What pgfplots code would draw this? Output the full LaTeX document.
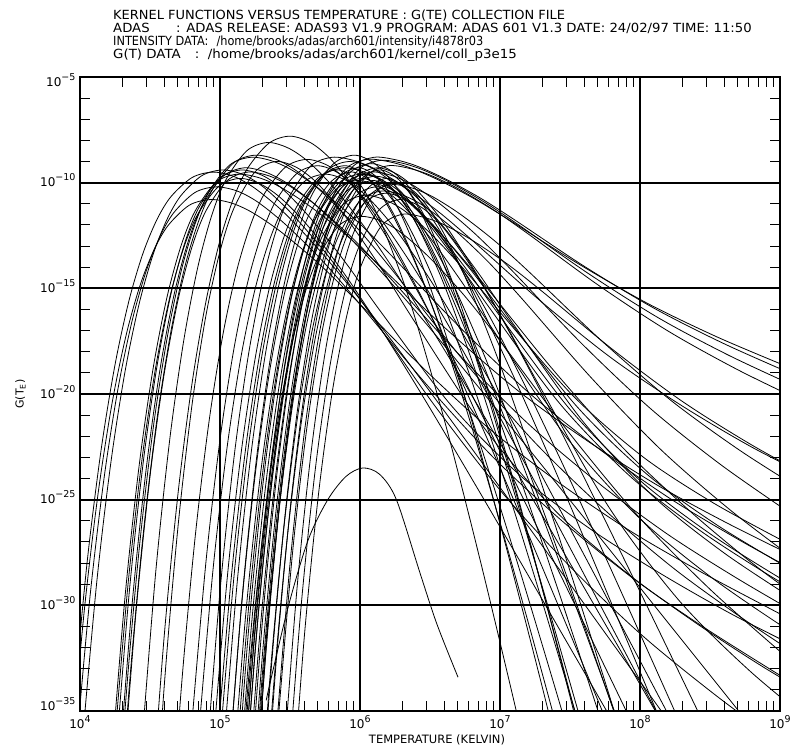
\documentclass[border=0pt]{standalone}
\usepackage{fontspec}
\setmainfont{DejaVu Sans}
\usepackage{graphicx}
\usepackage{pgfplots}
\pgfplotsset{compat=1.18}
\pgfplotsset{gte/.style={black, line width=0.8pt, smooth, tension=0.5, mark=none}}
\newcommand\sps[1]{\raisebox{0.5em}{\fontsize{9.5}{10}\selectfont #1}}

\begin{document}
\begin{tikzpicture}[x=1pt,y=1pt]
\path[use as bounding box] (0,0) rectangle (791,751);
% header
\begin{scope}[every node/.style={anchor=base west, inner sep=0pt, font=\fontsize{12.6}{13}\selectfont}]
\node at (113,731.5) {\scalebox{1.03}[1]{KERNEL FUNCTIONS VERSUS TEMPERATURE : G(TE) COLLECTION FILE}};
\node at (113,718.5) {\scalebox{1.05}[1]{\makebox[60pt][l]{ADAS}: ADAS RELEASE: ADAS93 V1.9 PROGRAM: ADAS 601 V1.3 DATE: 24/02/97 TIME: 11:50}};
\node at (113,705.5) {\scalebox{0.9}[1]{INTENSITY DATA:\hspace{9pt}/home/brooks/adas/arch601/intensity/i4878r03}};
\node at (113,692.5) {\scalebox{1.06}[1]{\makebox[77pt][l]{G(T) DATA}:\hspace{8pt}/home/brooks/adas/arch601/kernel/coll\_p3e15}};
\end{scope}

\begin{axis}[
  at={(80pt,40pt)}, anchor=south west,
  scale only axis, width=700pt, height=634pt,
  xmin=4, xmax=9, ymin=-35, ymax=-5,
  xtick={4,5,6,7,8,9},
  xticklabels={10\sps{4},10\sps{5},10\sps{6},10\sps{7},10\sps{8},10\sps{9}},
  ytick={-35,-30,-25,-20,-15,-10,-5},
  yticklabels={\raisebox{5pt}{10\sps{−35}},10\sps{−30},10\sps{−25},10\sps{−20},10\sps{−15},10\sps{−10},\raisebox{-5pt}{10\sps{−5}}},
  minor xtick={4.301,4.477,4.602,4.699,4.778,4.845,4.903,4.954,
               5.301,5.477,5.602,5.699,5.778,5.845,5.903,5.954,
               6.301,6.477,6.602,6.699,6.778,6.845,6.903,6.954,
               7.301,7.477,7.602,7.699,7.778,7.845,7.903,7.954,
               8.301,8.477,8.602,8.699,8.778,8.845,8.903,8.954},
  minor ytick={-34,-33,-32,-31,-29,-28,-27,-26,-24,-23,-22,-21,-19,-18,-17,-16,
               -14,-13,-12,-11,-9,-8,-7,-6},
  grid=major,
  major grid style={black, line width=1.7pt},
  tick align=inside,
  major tick length=0pt,
  minor tick length=10pt,
  minor tick style={black, line width=1pt},
  axis line style={black, line width=2pt},
  tick label style={font=\fontsize{12}{13}\selectfont},
  yticklabel style={anchor=base east, yshift=-4.3pt, xshift=-1pt},
  xticklabel style={yshift=-1pt},
  xlabel={TEMPERATURE (KELVIN)},
  ylabel={G(T\textsubscript{E})},
  xlabel style={font=\fontsize{11.5}{13}\selectfont, at={(axis description cs:0.51,0)}, anchor=north, yshift=-20pt},
  ylabel style={font=\fontsize{11}{13}\selectfont, at={(axis description cs:-0.085,0.5)}, anchor=center},
]
% low temperature group
\addplot[gte] coordinates {(3.93,-37.59)(4.03,-30.28)(4.13,-24.67)(4.23,-20.40)(4.33,-17.20)(4.43,-14.84)(4.53,-13.16)(4.63,-12.02)(4.78,-11.07)(4.93,-10.80)(5.08,-10.96)(5.23,-11.41)(5.43,-12.30)(5.68,-13.68)(5.93,-15.28)(6.43,-18.64)(6.93,-21.68)(7.43,-24.24)(7.93,-26.48)(8.43,-28.40)(8.93,-30.16)(9.10,-30.75)};
\addplot[gte] coordinates {(3.97,-36.99)(4.07,-29.68)(4.17,-24.07)(4.27,-19.80)(4.37,-16.60)(4.47,-14.24)(4.57,-12.56)(4.67,-11.42)(4.82,-10.47)(4.97,-10.20)(5.12,-10.39)(5.27,-10.92)(5.47,-11.99)(5.72,-13.62)(5.97,-15.52)(6.47,-19.51)(6.97,-23.12)(7.47,-26.16)(7.97,-28.82)(8.47,-31.10)(8.97,-33.19)(9.10,-33.70)};
\addplot[gte] coordinates {(3.95,-34.95)(4.05,-28.01)(4.15,-22.68)(4.25,-18.62)(4.35,-15.58)(4.45,-13.34)(4.55,-11.74)(4.65,-10.66)(4.80,-9.76)(4.95,-9.50)(5.10,-9.71)(5.25,-10.27)(5.45,-11.37)(5.70,-13.12)(5.95,-15.11)(6.20,-17.24)(6.45,-19.44)(6.70,-21.69)(6.95,-23.96)(7.45,-28.54)(7.95,-33.14)(8.45,-37.74)};
\addplot[gte] coordinates {(4.02,-36.19)(4.12,-28.88)(4.22,-23.27)(4.32,-19.00)(4.42,-15.80)(4.52,-13.44)(4.62,-11.76)(4.72,-10.62)(4.87,-9.67)(5.02,-9.40)(5.17,-9.63)(5.32,-10.26)(5.52,-11.52)(5.77,-13.45)(6.02,-15.70)(6.52,-20.43)(7.02,-24.70)(7.52,-28.30)(8.02,-31.45)(8.52,-34.15)(9.02,-36.63)};
\addplot[gte] coordinates {(4.22,-37.85)(4.32,-29.71)(4.42,-23.52)(4.52,-18.88)(4.62,-15.46)(4.72,-13.02)(4.82,-11.37)(4.97,-9.99)(5.12,-9.60)(5.27,-9.75)(5.42,-10.17)(5.62,-11.01)(5.87,-12.30)(6.12,-13.80)(6.62,-16.95)(7.12,-19.80)(7.62,-22.20)(8.12,-24.30)(8.62,-26.10)(9.12,-27.75)};
\addplot[gte] coordinates {(4.25,-37.65)(4.35,-29.51)(4.45,-23.32)(4.55,-18.68)(4.65,-15.26)(4.75,-12.82)(4.85,-11.17)(5.00,-9.79)(5.15,-9.40)(5.30,-9.65)(5.45,-10.32)(5.65,-11.71)(5.90,-13.81)(6.15,-16.12)(6.65,-20.53)(7.15,-23.89)(7.65,-26.41)(8.15,-28.51)(8.65,-30.40)(9.15,-32.08)};
\addplot[gte] coordinates {(4.27,-38.52)(4.37,-30.11)(4.47,-23.70)(4.57,-18.90)(4.67,-15.36)(4.77,-12.84)(4.87,-11.13)(5.02,-9.71)(5.17,-9.30)(5.32,-9.49)(5.47,-9.99)(5.67,-10.98)(5.92,-12.56)(6.17,-14.35)(6.42,-16.26)(6.67,-18.25)(6.92,-20.27)(7.17,-22.31)(7.67,-26.43)(8.17,-30.57)(8.67,-34.71)(9.17,-38.86)};
\addplot[gte] coordinates {(4.30,-38.72)(4.40,-30.31)(4.50,-23.90)(4.60,-19.10)(4.70,-15.56)(4.80,-13.04)(4.90,-11.33)(5.05,-9.91)(5.20,-9.50)(5.35,-9.68)(5.50,-10.17)(5.70,-11.15)(5.95,-12.65)(6.20,-14.40)(6.70,-18.08)(7.20,-21.40)(7.70,-24.20)(8.20,-26.65)(8.70,-28.75)(9.20,-30.68)};
\addplot[gte] coordinates {(4.24,-37.07)(4.34,-29.22)(4.44,-23.24)(4.54,-18.76)(4.64,-15.46)(4.74,-13.10)(4.84,-11.51)(4.99,-10.18)(5.14,-9.80)(5.29,-10.07)(5.44,-10.76)(5.64,-12.14)(5.89,-14.33)(6.14,-16.82)(6.39,-19.47)(6.64,-22.23)(6.89,-25.04)(7.14,-27.88)(7.64,-33.60)(8.14,-39.35)};
\addplot[gte] coordinates {(4.50,-40.48)(4.60,-31.57)(4.70,-24.72)(4.80,-19.51)(4.90,-15.61)(5.00,-12.73)(5.10,-10.68)(5.20,-9.29)(5.35,-8.13)(5.50,-7.80)(5.65,-8.12)(5.80,-8.95)(6.00,-10.61)(6.25,-13.23)(6.50,-16.22)(6.75,-19.40)(7.00,-22.71)(7.25,-26.09)(7.50,-29.49)(8.00,-36.35)};
\addplot[gte] coordinates {(4.44,-36.74)(4.54,-28.49)(4.64,-22.21)(4.74,-17.51)(4.84,-14.04)(4.94,-11.57)(5.04,-9.89)(5.19,-8.50)(5.34,-8.10)(5.49,-8.37)(5.64,-9.06)(5.84,-10.44)(6.09,-12.63)(6.34,-15.12)(6.59,-17.77)(6.84,-20.53)(7.09,-23.34)(7.34,-26.18)(7.84,-31.90)(8.34,-37.65)};
\addplot[gte] coordinates {(4.25,-43.53)(4.35,-34.02)(4.45,-26.73)(4.55,-21.18)(4.65,-17.02)(4.75,-13.95)(4.85,-11.77)(4.95,-10.29)(5.10,-9.05)(5.25,-8.70)(5.40,-8.90)(5.55,-9.46)(5.75,-10.58)(6.00,-12.30)(6.25,-14.30)(6.75,-18.50)(7.25,-22.30)(7.75,-25.50)(8.25,-28.30)(8.75,-30.70)(9.25,-32.90)};
\addplot[gte] coordinates {(4.22,-44.97)(4.32,-35.10)(4.42,-27.52)(4.52,-21.76)(4.62,-17.44)(4.72,-14.25)(4.82,-11.99)(4.92,-10.45)(5.07,-9.16)(5.22,-8.80)(5.37,-8.97)(5.52,-9.43)(5.72,-10.35)(5.97,-11.77)(6.22,-13.42)(6.72,-16.89)(7.22,-20.02)(7.72,-22.66)(8.22,-24.97)(8.72,-26.95)(9.22,-28.77)};
\addplot[gte] coordinates {(4.50,-44.06)(4.60,-33.97)(4.70,-26.28)(4.80,-20.52)(4.90,-16.27)(5.00,-13.25)(5.10,-11.20)(5.25,-9.49)(5.40,-9.00)(5.55,-9.29)(5.70,-10.06)(5.90,-11.64)(6.15,-14.04)(6.40,-16.68)(6.90,-21.72)(7.40,-25.56)(7.90,-28.44)(8.40,-30.84)(8.90,-33.00)(9.40,-34.92)};
% middle group
\addplot[gte] coordinates {(4.62,-43.73)(4.72,-34.22)(4.82,-26.93)(4.92,-21.38)(5.02,-17.22)(5.12,-14.15)(5.22,-11.97)(5.32,-10.49)(5.47,-9.25)(5.62,-8.90)(5.77,-9.19)(5.92,-9.96)(6.12,-11.47)(6.37,-13.88)(6.62,-16.62)(6.87,-19.54)(7.12,-22.57)(7.37,-25.66)(7.62,-28.78)(8.12,-35.07)};
\addplot[gte] coordinates {(4.90,-37.63)(5.00,-29.33)(5.10,-23.01)(5.20,-18.27)(5.30,-14.78)(5.40,-12.29)(5.50,-10.61)(5.65,-9.20)(5.80,-8.80)(5.95,-8.94)(6.10,-9.33)(6.30,-10.12)(6.55,-11.32)(6.80,-12.72)(7.30,-15.66)(7.80,-18.32)(8.30,-20.56)(8.80,-22.52)(9.30,-24.20)};
\addplot[gte] coordinates {(5.06,-37.92)(5.16,-29.51)(5.26,-23.10)(5.36,-18.30)(5.46,-14.76)(5.56,-12.24)(5.66,-10.53)(5.81,-9.11)(5.96,-8.70)(6.11,-9.12)(6.26,-10.24)(6.46,-12.44)(6.71,-15.94)(6.96,-19.92)(7.21,-24.17)(7.46,-28.58)(7.71,-33.08)(7.96,-37.62)};
\addplot[gte] coordinates {(5.20,-39.97)(5.30,-30.99)(5.40,-24.16)(5.50,-19.04)(5.60,-15.26)(5.70,-12.58)(5.80,-10.75)(5.95,-9.23)(6.10,-8.80)(6.25,-8.91)(6.40,-9.20)(6.60,-9.79)(6.85,-10.69)(7.10,-11.74)(7.60,-13.95)(8.10,-15.94)(8.60,-17.62)(9.10,-19.09)};
\addplot[gte] coordinates {(5.24,-40.12)(5.34,-31.14)(5.44,-24.31)(5.54,-19.19)(5.64,-15.41)(5.74,-12.73)(5.84,-10.90)(5.99,-9.38)(6.14,-8.95)(6.29,-9.06)(6.44,-9.37)(6.64,-9.98)(6.89,-10.93)(7.14,-12.03)(7.64,-14.34)(8.14,-16.43)(8.64,-18.19)(9.14,-19.73)};
\addplot[gte] coordinates {(5.15,-40.07)(5.25,-31.09)(5.35,-24.26)(5.45,-19.14)(5.55,-15.36)(5.65,-12.68)(5.75,-10.85)(5.90,-9.33)(6.05,-8.90)(6.20,-9.00)(6.35,-9.28)(6.55,-9.84)(6.80,-10.70)(7.05,-11.70)(7.55,-13.80)(8.05,-15.70)(8.55,-17.30)(9.05,-18.70)};
\addplot[gte] coordinates {(5.30,-42.32)(5.40,-32.78)(5.50,-25.52)(5.60,-20.08)(5.70,-16.07)(5.80,-13.21)(5.90,-11.27)(6.05,-9.66)(6.20,-9.20)(6.35,-9.32)(6.50,-9.64)(6.70,-10.28)(6.95,-11.27)(7.20,-12.42)(7.70,-14.84)(8.20,-17.02)(8.70,-18.86)(9.20,-20.47)};
\addplot[gte] coordinates {(5.00,-36.47)(5.10,-28.62)(5.20,-22.64)(5.30,-18.16)(5.40,-14.86)(5.50,-12.50)(5.60,-10.91)(5.75,-9.58)(5.90,-9.20)(6.05,-9.73)(6.20,-11.12)(6.40,-13.88)(6.65,-18.25)(6.90,-23.23)(7.15,-28.54)(7.40,-34.05)(7.65,-39.68)};
\addplot[gte] coordinates {(5.05,-38.72)(5.15,-30.31)(5.25,-23.90)(5.35,-19.10)(5.45,-15.56)(5.55,-13.04)(5.65,-11.33)(5.80,-9.91)(5.95,-9.50)(6.10,-10.08)(6.25,-11.61)(6.45,-14.65)(6.70,-19.46)(6.95,-24.93)(7.20,-30.77)(7.45,-36.84)};
\addplot[gte] coordinates {(5.10,-40.47)(5.20,-31.49)(5.30,-24.66)(5.40,-19.54)(5.50,-15.76)(5.60,-13.08)(5.70,-11.25)(5.85,-9.73)(6.00,-9.30)(6.15,-9.94)(6.30,-11.60)(6.50,-14.92)(6.75,-20.16)(7.00,-26.14)(7.25,-32.51)(7.50,-39.12)};
\addplot[gte] coordinates {(5.15,-38.82)(5.25,-30.41)(5.35,-24.00)(5.45,-19.20)(5.55,-15.66)(5.65,-13.14)(5.75,-11.43)(5.90,-10.01)(6.05,-9.60)(6.20,-10.08)(6.35,-11.33)(6.55,-13.81)(6.80,-17.75)(7.05,-22.23)(7.30,-27.01)(7.55,-31.97)(7.80,-37.03)};
\addplot[gte] coordinates {(5.20,-43.02)(5.30,-33.48)(5.40,-26.22)(5.50,-20.78)(5.60,-16.77)(5.70,-13.91)(5.80,-11.97)(5.95,-10.36)(6.10,-9.90)(6.25,-10.46)(6.40,-11.92)(6.60,-14.81)(6.85,-19.40)(7.10,-24.63)(7.35,-30.21)(7.60,-35.99)};
\addplot[gte] coordinates {(5.25,-44.46)(5.35,-34.37)(5.45,-26.68)(5.55,-20.92)(5.65,-16.67)(5.75,-13.65)(5.85,-11.60)(6.00,-9.89)(6.15,-9.40)(6.30,-10.01)(6.45,-11.61)(6.65,-14.78)(6.90,-19.81)(7.15,-25.53)(7.40,-31.64)(7.65,-37.98)};
\addplot[gte] coordinates {(5.22,-41.37)(5.32,-32.39)(5.42,-25.56)(5.52,-20.44)(5.62,-16.66)(5.72,-13.98)(5.82,-12.15)(5.97,-10.63)(6.12,-10.20)(6.27,-10.65)(6.42,-11.83)(6.62,-14.18)(6.87,-17.89)(7.12,-22.13)(7.37,-26.64)(7.62,-31.32)(7.87,-36.11)};
\addplot[gte] coordinates {(5.40,-36.15)(5.50,-28.04)(5.60,-21.96)(5.70,-17.48)(5.80,-14.28)(5.90,-12.12)(6.05,-10.31)(6.20,-9.80)(6.35,-10.44)(6.50,-12.10)(6.70,-15.42)(6.95,-20.66)(7.20,-26.64)(7.45,-33.01)(7.70,-39.62)};
\addplot[gte] coordinates {(5.18,-38.32)(5.28,-29.91)(5.38,-23.50)(5.48,-18.70)(5.58,-15.16)(5.68,-12.64)(5.78,-10.93)(5.93,-9.51)(6.08,-9.10)(6.23,-9.47)(6.38,-10.44)(6.58,-12.38)(6.83,-15.44)(7.08,-18.92)(7.33,-22.64)(7.58,-26.50)(7.83,-30.44)(8.08,-34.41)(8.58,-42.41)};
\addplot[gte] coordinates {(5.28,-43.62)(5.38,-34.08)(5.48,-26.82)(5.58,-21.38)(5.68,-17.37)(5.78,-14.51)(5.88,-12.57)(6.03,-10.96)(6.18,-10.50)(6.33,-10.84)(6.48,-11.75)(6.68,-13.54)(6.93,-16.38)(7.18,-19.62)(7.43,-23.07)(7.68,-26.65)(7.93,-30.31)(8.18,-34.00)(8.68,-41.43)};
\addplot[gte] coordinates {(4.95,-36.67)(5.05,-28.82)(5.15,-22.84)(5.25,-18.36)(5.35,-15.06)(5.45,-12.70)(5.55,-11.11)(5.70,-9.78)(5.85,-9.40)(6.00,-10.09)(6.15,-11.90)(6.35,-15.48)(6.60,-21.17)(6.85,-27.64)(7.10,-34.54)(7.35,-41.71)};
\addplot[gte] coordinates {(5.12,-39.99)(5.22,-31.30)(5.32,-24.68)(5.42,-19.72)(5.52,-16.06)(5.62,-13.46)(5.72,-11.69)(5.87,-10.22)(6.02,-9.80)(6.17,-10.33)(6.32,-11.72)(6.52,-14.48)(6.77,-18.85)(7.02,-23.83)(7.27,-29.14)(7.52,-34.65)(7.77,-40.28)};
\addplot[gte] coordinates {(5.45,-37.74)(5.55,-29.20)(5.65,-22.80)(5.75,-18.08)(5.85,-14.72)(5.95,-12.44)(6.10,-10.54)(6.25,-10.00)(6.40,-10.50)(6.55,-11.82)(6.75,-14.45)(7.00,-18.60)(7.25,-23.33)(7.50,-28.37)(7.75,-33.61)(8.00,-38.96)};
\addplot[gte] coordinates {(5.02,-37.25)(5.12,-29.11)(5.22,-22.92)(5.32,-18.28)(5.42,-14.86)(5.52,-12.42)(5.62,-10.77)(5.77,-9.39)(5.92,-9.00)(6.07,-9.26)(6.22,-9.95)(6.42,-11.37)(6.67,-13.52)(6.92,-15.88)(7.42,-20.40)(7.92,-23.84)(8.42,-26.42)(8.92,-28.57)(9.42,-30.50)};
\addplot[gte] coordinates {(5.10,-38.82)(5.20,-30.41)(5.30,-24.00)(5.40,-19.20)(5.50,-15.66)(5.60,-13.14)(5.70,-11.43)(5.85,-10.01)(6.00,-9.60)(6.15,-9.85)(6.30,-10.52)(6.50,-11.91)(6.75,-14.01)(7.00,-16.32)(7.50,-20.73)(8.00,-24.09)(8.50,-26.61)(9.00,-28.71)(9.50,-30.60)};
\addplot[gte] coordinates {(5.15,-41.17)(5.25,-32.19)(5.35,-25.36)(5.45,-20.24)(5.55,-16.46)(5.65,-13.78)(5.75,-11.95)(5.90,-10.43)(6.05,-10.00)(6.20,-10.24)(6.35,-10.88)(6.55,-12.20)(6.80,-14.20)(7.05,-16.40)(7.55,-20.60)(8.05,-23.80)(8.55,-26.20)(9.05,-28.20)};
\addplot[gte] coordinates {(5.20,-41.84)(5.30,-32.59)(5.40,-25.54)(5.50,-20.26)(5.60,-16.37)(5.70,-13.59)(5.80,-11.71)(5.95,-10.15)(6.10,-9.70)(6.25,-9.96)(6.40,-10.67)(6.60,-12.12)(6.85,-14.32)(7.10,-16.74)(7.60,-21.36)(8.10,-24.88)(8.60,-27.52)(9.10,-29.72)};
\addplot[gte] coordinates {(5.08,-39.12)(5.18,-30.71)(5.28,-24.30)(5.38,-19.50)(5.48,-15.96)(5.58,-13.44)(5.68,-11.73)(5.83,-10.31)(5.98,-9.90)(6.13,-10.18)(6.28,-10.91)(6.48,-12.43)(6.73,-14.73)(6.98,-17.26)(7.48,-22.09)(7.98,-25.77)(8.48,-28.53)(8.98,-30.83)(9.48,-32.90)};
\addplot[gte] coordinates {(5.25,-43.52)(5.35,-33.98)(5.45,-26.72)(5.55,-21.28)(5.65,-17.27)(5.75,-14.41)(5.85,-12.47)(6.00,-10.86)(6.15,-10.40)(6.30,-10.58)(6.45,-11.08)(6.65,-12.09)(6.90,-13.64)(7.15,-15.44)(7.65,-19.22)(8.15,-22.64)(8.65,-25.52)(9.15,-28.04)};
\addplot[gte] coordinates {(5.18,-40.67)(5.28,-31.69)(5.38,-24.86)(5.48,-19.74)(5.58,-15.96)(5.68,-13.28)(5.78,-11.45)(5.93,-9.93)(6.08,-9.50)(6.23,-9.67)(6.38,-10.13)(6.58,-11.05)(6.83,-12.47)(7.08,-14.12)(7.58,-17.59)(8.08,-20.72)(8.58,-23.36)(9.08,-25.67)};
\addplot[gte] coordinates {(5.42,-35.07)(5.52,-27.38)(5.62,-21.62)(5.72,-17.37)(5.82,-14.35)(5.92,-12.30)(6.07,-10.59)(6.22,-10.10)(6.37,-10.25)(6.52,-10.67)(6.72,-11.51)(6.97,-12.80)(7.22,-14.30)(7.72,-17.45)(8.22,-20.30)(8.72,-22.70)(9.22,-24.80)};
\addplot[gte] coordinates {(4.98,-36.57)(5.08,-28.72)(5.18,-22.74)(5.28,-18.26)(5.38,-14.96)(5.48,-12.60)(5.58,-11.01)(5.73,-9.68)(5.88,-9.30)(6.03,-9.50)(6.18,-10.04)(6.38,-11.13)(6.63,-12.81)(6.88,-14.76)(7.38,-18.86)(7.88,-22.56)(8.38,-25.68)(8.88,-28.41)(9.38,-30.75)};
\addplot[gte] coordinates {(5.10,-42.77)(5.20,-33.79)(5.30,-26.96)(5.40,-21.84)(5.50,-18.06)(5.60,-15.38)(5.70,-13.55)(5.85,-12.03)(6.00,-11.60)(6.15,-11.81)(6.30,-12.40)(6.50,-13.57)(6.75,-15.38)(7.00,-17.48)(7.50,-21.89)(8.00,-25.88)(8.50,-29.24)(9.00,-32.18)};
\addplot[gte] coordinates {(5.48,-38.54)(5.58,-30.00)(5.68,-23.60)(5.78,-18.88)(5.88,-15.52)(5.98,-13.24)(6.13,-11.34)(6.28,-10.80)(6.43,-11.13)(6.58,-12.01)(6.78,-13.83)(7.03,-16.58)(7.28,-19.60)(7.78,-25.38)(8.28,-29.78)(8.78,-33.08)(9.28,-35.83)};
\addplot[gte] coordinates {(5.22,-42.42)(5.32,-32.88)(5.42,-25.62)(5.52,-20.18)(5.62,-16.17)(5.72,-13.31)(5.82,-11.37)(5.97,-9.76)(6.12,-9.30)(6.27,-9.62)(6.42,-10.45)(6.62,-12.11)(6.87,-14.73)(7.12,-17.72)(7.37,-20.90)(7.62,-24.21)(7.87,-27.59)(8.12,-30.99)(8.62,-37.85)};
\addplot[gte] coordinates {(4.85,-35.90)(4.95,-28.32)(5.05,-22.56)(5.15,-18.24)(5.25,-15.05)(5.35,-12.79)(5.45,-11.25)(5.60,-9.96)(5.75,-9.60)(5.90,-9.89)(6.05,-10.66)(6.25,-12.17)(6.50,-14.58)(6.75,-17.32)(7.00,-20.24)(7.25,-23.27)(7.50,-26.36)(7.75,-29.48)(8.25,-35.77)};
\addplot[gte] coordinates {(5.50,-40.63)(5.60,-31.66)(5.70,-24.94)(5.80,-19.98)(5.90,-16.46)(6.00,-14.06)(6.15,-12.07)(6.30,-11.50)(6.45,-11.63)(6.60,-11.99)(6.80,-12.72)(7.05,-13.84)(7.30,-15.14)(7.80,-17.87)(8.30,-20.34)(8.80,-22.42)(9.30,-24.24)};
\addplot[gte] coordinates {(4.80,-35.50)(4.90,-27.92)(5.00,-22.16)(5.10,-17.84)(5.20,-14.65)(5.30,-12.39)(5.40,-10.85)(5.55,-9.56)(5.70,-9.20)(5.85,-9.57)(6.00,-10.54)(6.20,-12.48)(6.45,-15.54)(6.70,-19.02)(6.95,-22.74)(7.20,-26.60)(7.45,-30.54)(7.70,-34.51)(8.20,-42.51)};
\addplot[gte] coordinates {(5.13,-41.77)(5.23,-32.79)(5.33,-25.96)(5.43,-20.84)(5.53,-17.06)(5.63,-14.38)(5.73,-12.55)(5.88,-11.03)(6.03,-10.60)(6.18,-10.82)(6.33,-11.39)(6.53,-12.58)(6.78,-14.38)(7.03,-16.36)(7.53,-20.14)(8.03,-23.02)(8.53,-25.18)(9.03,-26.98)};
% weak line
\addplot[gte] coordinates {(5.33,-34.5)(5.36,-33.6)(5.49,-30.0)(5.63,-26.9)(5.77,-25.0)(5.90,-23.9)(6.02,-23.5)(6.14,-23.8)(6.26,-25.0)(6.43,-28.5)(6.55,-30.9)(6.70,-33.4)};
\end{axis}
\end{tikzpicture}
\end{document}
